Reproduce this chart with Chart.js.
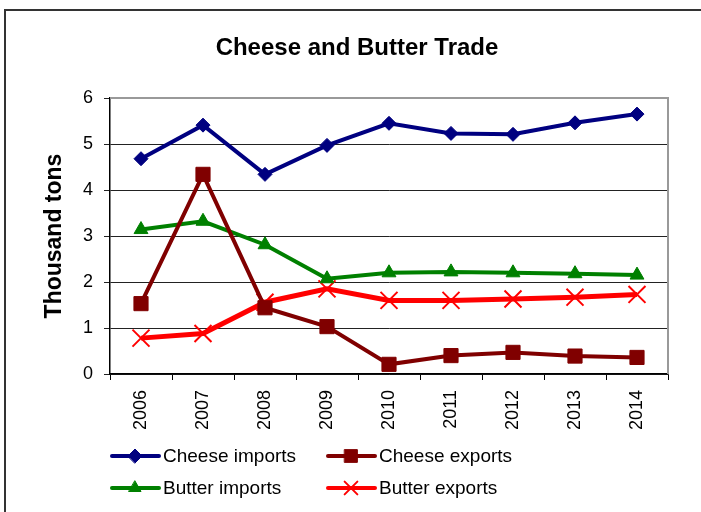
<!DOCTYPE html>
<html>
<head>
<meta charset="utf-8">
<title>Cheese and Butter Trade</title>
<script src="https://cdn.jsdelivr.net/npm/chart.js@4/dist/chart.umd.min.js"></script>
<style>
  html, body { margin: 0; padding: 0; background: #fff; }
  #wrap { width: 701px; height: 512px; }
</style>
</head>
<body>
<div id="wrap"><canvas id="tradeChart" width="701" height="512"></canvas></div>
<script>
let years = ['2006', '2007', '2008', '2009', '2010', '2011', '2012', '2013', '2014'];
let cheeseImports = [4.68, 5.41, 4.34, 4.97, 5.45, 5.23, 5.21, 5.46, 5.65];
let cheeseExports = [1.53, 4.34, 1.44, 1.03, 0.21, 0.40, 0.47, 0.39, 0.36];
let butterImports = [3.14, 3.32, 2.81, 2.07, 2.20, 2.22, 2.20, 2.18, 2.15];
let butterExports = [0.78, 0.88, 1.56, 1.85, 1.60, 1.60, 1.63, 1.67, 1.73];
let chartTitle = 'Cheese and Butter Trade';

let fontFamily = '"Liberation Sans", Arial, sans-serif';
Chart.defaults.font.family = fontFamily;
Chart.defaults.color = '#000';

function series(label, data, color, style, radius, width, border) {
    return {
        label: label,
        data: data,
        borderColor: color,
        backgroundColor: color,
        borderWidth: width,
        pointStyle: style,
        pointRadius: radius,
        pointHoverRadius: radius,
        pointBorderWidth: border,
        pointBackgroundColor: color,
        pointBorderColor: color,
        tension: 0,
        clip: false
    };
}

// white background, outer frame and the heading
let frame = {
    id: 'frame',
    beforeDraw(chart) {
        let ctx = chart.ctx;
        ctx.save();
        ctx.fillStyle = '#fff';
        ctx.fillRect(0, 0, chart.width, chart.height);
        ctx.strokeStyle = '#333';
        ctx.lineWidth = 2;
        ctx.strokeRect(5, 10, chart.width + 20, chart.height + 20);
        ctx.fillStyle = '#000';
        ctx.font = 'bold 24px ' + fontFamily;
        ctx.textAlign = 'center';
        ctx.textBaseline = 'middle';
        ctx.fillText(chartTitle, 357, 48);
        ctx.restore();
    }
};

// gray edge along the top and right of the plot area
let plotEdge = {
    id: 'plotEdge',
    beforeDatasetsDraw(chart) {
        let a = chart.chartArea;
        let ctx = chart.ctx;
        ctx.save();
        ctx.strokeStyle = '#999';
        ctx.lineWidth = 2;
        ctx.beginPath();
        ctx.moveTo(a.left, a.top);
        ctx.lineTo(a.right, a.top);
        ctx.lineTo(a.right, a.bottom);
        ctx.stroke();
        ctx.restore();
    }
};

// two-column legend with line + marker samples
let lineLegend = {
    id: 'lineLegend',
    afterDraw(chart) {
        let ctx = chart.ctx;
        let cols = [112, 328];
        let rows = [456, 488];
        let legendRadius = [7, 9, 7, 9];
        ctx.save();
        chart.data.datasets.forEach(function(ds, i) {
            let x = cols[i % 2];
            let y = rows[Math.floor(i / 2)];
            ctx.strokeStyle = ds.borderColor;
            ctx.fillStyle = ds.borderColor;
            ctx.lineWidth = 4;
            ctx.lineCap = 'round';
            ctx.beginPath();
            ctx.moveTo(x, y);
            ctx.lineTo(x + 47, y);
            ctx.stroke();
            ctx.lineWidth = ds.pointBorderWidth;
            Chart.helpers.drawPoint(ctx, {
                pointStyle: ds.pointStyle,
                radius: legendRadius[i],
                borderWidth: ds.pointBorderWidth,
                rotation: 0
            }, x + 23, y);
            ctx.fillStyle = '#000';
            ctx.font = '19px ' + fontFamily;
            ctx.textBaseline = 'middle';
            ctx.textAlign = 'left';
            ctx.fillText(ds.label, x + 51, y + 1);
        });
        ctx.restore();
    }
};

let tradeConfig = {
    type: 'line',
    data: {
        labels: years,
        datasets: [
            series('Cheese imports', cheeseImports, '#000080', 'rectRot', 7, 4, 1),
            series('Cheese exports', cheeseExports, '#800000', 'rect', 10, 4, 1),
            series('Butter imports', butterImports, '#008000', 'triangle', 8, 4, 1),
            series('Butter exports', butterExports, '#ff0000', 'crossRot', 12, 5, 2)
        ]
    },
    options: {
        responsive: false,
        animation: false,
        layout: {
            padding: { top: 98, right: 33, bottom: 82, left: 0 }
        },
        plugins: {
            legend: { display: false },
            tooltip: { enabled: false },
            title: { display: false }
        },
        scales: {
            x: {
                offset: true,
                afterFit(scale) { scale.height = 56; },
                grid: {
                    offset: true,
                    drawOnChartArea: false,
                    drawTicks: true,
                    tickLength: 6,
                    color: '#000'
                },
                border: { display: true, color: '#000', width: 1.5 },
                ticks: {
                    minRotation: 90,
                    maxRotation: 90,
                    padding: 10,
                    color: '#000',
                    font: { size: 18 }
                }
            },
            y: {
                min: 0,
                max: 6,
                afterFit(scale) { scale.width = 110; },
                grid: {
                    color: '#222',
                    lineWidth: 1,
                    drawTicks: true,
                    tickLength: 6
                },
                border: { display: true, color: '#000', width: 1.5 },
                ticks: {
                    stepSize: 1,
                    padding: 11,
                    color: '#000',
                    font: { size: 18 }
                },
                title: {
                    display: true,
                    text: 'Thousand tons',
                    color: '#000',
                    font: { size: 23, weight: 'bold' },
                    padding: { top: 41, bottom: 0 }
                }
            }
        }
    },
    plugins: [frame, plotEdge, lineLegend]
};

window.onload = function() {
    let ctx = document.getElementById('tradeChart').getContext('2d');
    window.tradeChart = new Chart(ctx, tradeConfig);
};
</script>
</body>
</html>
